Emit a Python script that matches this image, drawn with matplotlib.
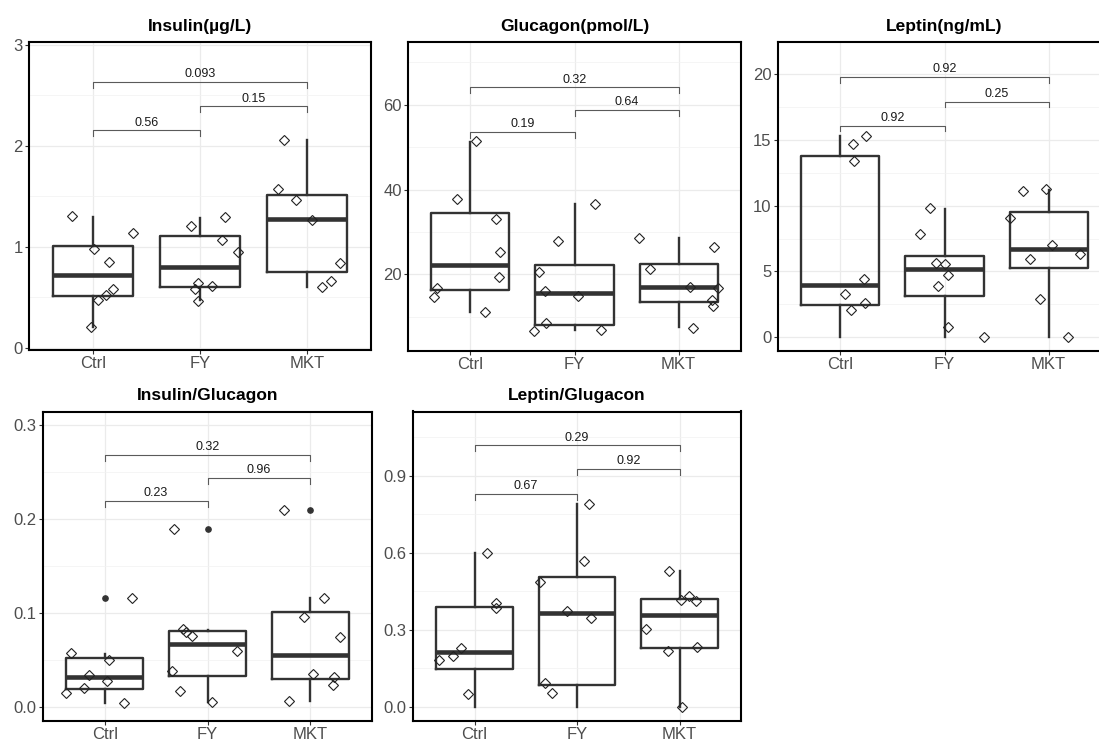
import matplotlib.pyplot as plt
from matplotlib.ticker import FixedLocator

plt.rcParams['font.family'] = ['Liberation Sans', 'DejaVu Sans']

groups = ['Ctrl', 'FY', 'MKT']
pairs = [(0, 1), (1, 2), (0, 2)]

# Insulin
insulin_q1 = [0.515, 0.604, 0.756]
insulin_med = [0.72, 0.799, 1.274]
insulin_q3 = [1.013, 1.106, 1.515]
insulin_lo = [0.21, 0.47, 0.60]
insulin_hi = [1.294, 1.284, 2.053]
insulin_out = [[], [], []]
insulin_pts = [[1.307, 0.977, 1.142, 0.848, 0.581, 0.528, 0.475, 0.205],
               [1.208, 1.294, 1.069, 0.954, 0.640, 0.614, 0.581, 0.465],
               [2.053, 1.571, 1.459, 1.267, 0.845, 0.667, 0.601]]
insulin_jit = [[-0.20, 0.01, 0.37, 0.15, 0.19, 0.12, 0.05, -0.02],
               [-0.08, 0.23, 0.21, 0.36, -0.02, 0.11, -0.05, -0.02],
               [-0.21, -0.27, -0.10, 0.05, 0.31, 0.23, 0.14]]
insulin_p = ['0.56', '0.15', '0.093']
insulin_brk = [2.152, 2.389, 2.627]

# Glucagon
glucagon_q1 = [16.23, 8.13, 13.5]
glucagon_med = [22.28, 15.6, 17.0]
glucagon_q3 = [34.38, 22.28, 22.5]
glucagon_lo = [11.2, 7.0, 7.6]
glucagon_hi = [51.2, 36.5, 28.6]
glucagon_out = [[], [], []]
glucagon_pts = [[51.4, 37.8, 33.1, 25.2, 19.4, 16.7, 14.8, 11.2],
                [36.6, 27.9, 20.5, 16.1, 15.0, 8.5, 6.7, 7.0],
                [28.6, 26.4, 21.3, 17.1, 16.9, 14.0, 12.6, 7.5]]
glucagon_jit = [[0.05, -0.13, 0.25, 0.28, 0.27, -0.32, -0.35, 0.14],
                [0.20, -0.16, -0.34, -0.28, 0.03, -0.27, -0.39, 0.25],
                [-0.38, 0.34, -0.27, 0.11, 0.38, 0.32, 0.33, 0.14]]
glucagon_p = ['0.19', '0.64', '0.32']
glucagon_brk = [53.55, 58.8, 64.1]

# Leptin
leptin_q1 = [2.48, 3.16, 5.23]
leptin_med = [3.94, 5.18, 6.70]
leptin_q3 = [13.78, 6.17, 9.53]
leptin_lo = [0.0, 0.0, 0.0]
leptin_hi = [15.25, 9.76, 11.2]
leptin_out = [[], [], []]
leptin_pts = [[15.3, 14.7, 13.4, 4.45, 3.29, 2.6, 2.05],
              [9.79, 7.81, 5.66, 5.59, 4.75, 3.89, 0.78, 0.0],
              [11.07, 11.25, 9.05, 7.0, 5.97, 6.35, 2.93, 0.0]]
leptin_jit = [[0.25, 0.12, 0.13, 0.23, 0.04, 0.24, 0.10],
              [-0.14, -0.24, -0.08, 0.0, 0.03, -0.06, 0.03, 0.38],
              [-0.25, -0.02, -0.37, 0.03, -0.18, 0.30, -0.08, 0.19]]
leptin_p = ['0.92', '0.25', '0.92']
leptin_brk = [16.06, 17.88, 19.72]

# Insulin/Glucagon
ig_q1 = [0.0185, 0.0327, 0.0291]
ig_med = [0.0312, 0.0667, 0.0543]
ig_q3 = [0.0518, 0.0806, 0.1008]
ig_lo = [0.0036, 0.0046, 0.006]
ig_hi = [0.0557, 0.0816, 0.115]
ig_out = [[0.116], [0.189], [0.2087]]
ig_pts = [[0.116, 0.0568, 0.0497, 0.034, 0.027, 0.0202, 0.0142, 0.0036],
          [0.189, 0.083, 0.0795, 0.0753, 0.0593, 0.0376, 0.016, 0.0046],
          [0.2087, 0.1154, 0.0955, 0.0742, 0.0348, 0.0316, 0.0227, 0.0057]]
ig_jit = [[0.27, -0.33, 0.04, -0.15, 0.02, -0.20, -0.38, 0.19],
          [-0.33, -0.24, -0.21, -0.15, 0.29, -0.35, -0.27, 0.04],
          [-0.26, 0.13, -0.06, 0.29, 0.03, 0.23, 0.22, -0.21]]
ig_p = ['0.23', '0.96', '0.32']
ig_brk = [0.219, 0.2435, 0.268]

# Leptin/Glucagon
lg_q1 = [0.149, 0.084, 0.231]
lg_med = [0.213, 0.364, 0.358]
lg_q3 = [0.391, 0.505, 0.419]
lg_lo = [0.0, 0.0, 0.0]
lg_hi = [0.601, 0.79, 0.529]
lg_out = [[], [], []]
lg_pts = [[0.601, 0.403, 0.387, 0.23, 0.199, 0.181, 0.049],
          [0.79, 0.568, 0.486, 0.373, 0.348, 0.095, 0.053],
          [0.529, 0.431, 0.417, 0.414, 0.305, 0.234, 0.219, 0.0]]
lg_jit = [[0.12, 0.21, 0.21, -0.13, -0.21, -0.35, -0.06],
          [0.12, 0.07, -0.36, -0.10, 0.14, -0.31, -0.24],
          [-0.10, 0.09, 0.01, 0.16, -0.33, 0.17, -0.11, 0.02]]
lg_p = ['0.67', '0.92', '0.29']
lg_brk = [0.83, 0.926, 1.019]

panels = [
    ('Insulin(µg/L)', insulin_q1, insulin_med, insulin_q3, insulin_lo, insulin_hi,
     insulin_out, insulin_pts, insulin_jit, insulin_p, insulin_brk,
     [0, 1, 2, 3], [0.5, 1.5, 2.5], (-0.02, 3.026), (29, 42, 371, 350)),
    ('Glucagon(pmol/L)', glucagon_q1, glucagon_med, glucagon_q3, glucagon_lo, glucagon_hi,
     glucagon_out, glucagon_pts, glucagon_jit, glucagon_p, glucagon_brk,
     [20, 40, 60], [10, 30, 50, 70], (2.08, 74.8), (408, 42, 741, 350.5)),
    ('Leptin(ng/mL)', leptin_q1, leptin_med, leptin_q3, leptin_lo, leptin_hi,
     leptin_out, leptin_pts, leptin_jit, leptin_p, leptin_brk,
     [0, 5, 10, 15, 20], [2.5, 7.5, 12.5, 17.5], (-0.99, 22.4), (778, 42, 1111, 350.5)),
    ('Insulin/Glucagon', ig_q1, ig_med, ig_q3, ig_lo, ig_hi,
     ig_out, ig_pts, ig_jit, ig_p, ig_brk,
     [0.0, 0.1, 0.2, 0.3], [0.05, 0.15, 0.25], (-0.0149, 0.314), (43, 411.5, 372, 720.5)),
    ('Leptin/Glugacon', lg_q1, lg_med, lg_q3, lg_lo, lg_hi,
     lg_out, lg_pts, lg_jit, lg_p, lg_brk,
     [0.0, 0.3, 0.6, 0.9], [0.15, 0.45, 0.75, 1.05], (-0.053, 1.151), (413, 411.5, 741, 720.5)),
]

W, H = 1099, 740
fig = plt.figure(figsize=(W / 100, H / 100), dpi=100)

box_col = '#333333'
for (title, q1, med, q3, lo, hi, out, pts, jit, pvals, brk,
     yticks, yminor, ylim, (x0, y0, x1, y1)) in panels:
    ax = fig.add_axes([x0 / W, 1 - y1 / H, (x1 - x0) / W, (y1 - y0) / H])
    ax.set_xlim(0.4, 3.6)
    ax.set_ylim(*ylim)

    # grid like theme_bw
    ax.set_axisbelow(True)
    ax.yaxis.set_major_locator(FixedLocator(yticks))
    ax.yaxis.set_minor_locator(FixedLocator(yminor))
    ax.grid(True, which='major', color='#EBEBEB', lw=0.9)
    ax.grid(True, which='minor', axis='y', color='#F2F2F2', lw=0.5)
    ax.tick_params(which='minor', left=False)

    stats = []
    for i in range(3):
        stats.append(dict(med=med[i], q1=q1[i], q3=q3[i], whislo=lo[i],
                          whishi=hi[i], fliers=out[i]))
    ax.bxp(stats, positions=[1, 2, 3], widths=0.75, showcaps=False,
           boxprops=dict(color=box_col, lw=1.7),
           whiskerprops=dict(color=box_col, lw=1.7),
           medianprops=dict(color=box_col, lw=3.3, solid_capstyle='butt'),
           flierprops=dict(marker='o', markersize=3.8, markerfacecolor=box_col,
                           markeredgecolor=box_col))

    for i in range(3):
        xs = [i + 1 + j for j in jit[i]]
        ax.plot(xs, pts[i], ls='none', marker='D', ms=5.6, mfc='none',
                mec='#222222', mew=0.8, zorder=4)

    # significance brackets
    tip = 0.019 * (ylim[1] - ylim[0])
    for (a, b), p, yb in zip(pairs, pvals, brk):
        ax.plot([a + 1, a + 1, b + 1, b + 1], [yb - tip, yb, yb, yb - tip],
                color='#5a5a5a', lw=0.8, zorder=5)
        ax.text((a + b) / 2 + 1, yb + 0.006 * (ylim[1] - ylim[0]), p,
                ha='center', va='bottom', fontsize=9, color='#1a1a1a')

    ax.set_xticks([1, 2, 3])
    ax.set_xticklabels(groups)
    ax.tick_params(axis='both', which='major', length=3, width=0.8,
                   color='#333333', labelcolor='#4D4D4D', labelsize=12, pad=1.5)
    for s in ax.spines.values():
        s.set_linewidth(1.5)
        s.set_color('black')
    ax.set_title(title, fontsize=12.5, fontweight='bold', pad=8)

fig.savefig('out.png', dpi=100)
